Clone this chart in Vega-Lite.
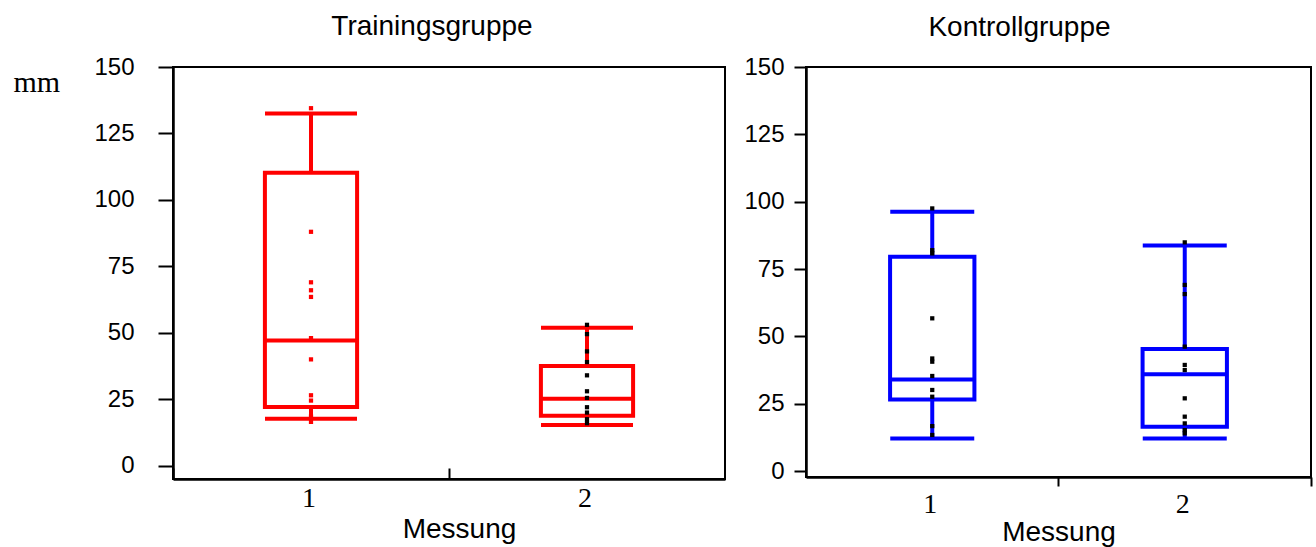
{
  "$schema": "https://vega.github.io/schema/vega-lite/v6.json",
  "padding": {"left": 12, "top": 12, "right": 4, "bottom": 0},
  "bounds": "flush",
  "spacing": 81,
  "datasets": {
    "boxen": [
      {"gruppe": "Trainingsgruppe", "messung": 1, "min": 17.7, "q1": 22.1, "median": 47.1, "q3": 110.2, "max": 132.5},
      {"gruppe": "Trainingsgruppe", "messung": 2, "min": 15.3, "q1": 18.75, "median": 25.2, "q3": 37.5, "max": 51.9},
      {"gruppe": "Kontrollgruppe", "messung": 1, "min": 12.1, "q1": 26.6, "median": 34.0, "q3": 79.6, "max": 96.3},
      {"gruppe": "Kontrollgruppe", "messung": 2, "min": 12.1, "q1": 16.5, "median": 35.9, "q3": 45.3, "max": 83.7}
    ],
    "werte": [
      {"gruppe": "Trainingsgruppe", "messung": 1, "mm": 134.5},
      {"gruppe": "Trainingsgruppe", "messung": 1, "mm": 88},
      {"gruppe": "Trainingsgruppe", "messung": 1, "mm": 69},
      {"gruppe": "Trainingsgruppe", "messung": 1, "mm": 66},
      {"gruppe": "Trainingsgruppe", "messung": 1, "mm": 63.5},
      {"gruppe": "Trainingsgruppe", "messung": 1, "mm": 48},
      {"gruppe": "Trainingsgruppe", "messung": 1, "mm": 40},
      {"gruppe": "Trainingsgruppe", "messung": 1, "mm": 26.5},
      {"gruppe": "Trainingsgruppe", "messung": 1, "mm": 24.5},
      {"gruppe": "Trainingsgruppe", "messung": 1, "mm": 18.5},
      {"gruppe": "Trainingsgruppe", "messung": 1, "mm": 16.5},
      {"gruppe": "Trainingsgruppe", "messung": 2, "mm": 53},
      {"gruppe": "Trainingsgruppe", "messung": 2, "mm": 49.5},
      {"gruppe": "Trainingsgruppe", "messung": 2, "mm": 43},
      {"gruppe": "Trainingsgruppe", "messung": 2, "mm": 39},
      {"gruppe": "Trainingsgruppe", "messung": 2, "mm": 34},
      {"gruppe": "Trainingsgruppe", "messung": 2, "mm": 28},
      {"gruppe": "Trainingsgruppe", "messung": 2, "mm": 25.5},
      {"gruppe": "Trainingsgruppe", "messung": 2, "mm": 22},
      {"gruppe": "Trainingsgruppe", "messung": 2, "mm": 20},
      {"gruppe": "Trainingsgruppe", "messung": 2, "mm": 17.5},
      {"gruppe": "Trainingsgruppe", "messung": 2, "mm": 16},
      {"gruppe": "Kontrollgruppe", "messung": 1, "mm": 97.5},
      {"gruppe": "Kontrollgruppe", "messung": 1, "mm": 82},
      {"gruppe": "Kontrollgruppe", "messung": 1, "mm": 80.8},
      {"gruppe": "Kontrollgruppe", "messung": 1, "mm": 56.7},
      {"gruppe": "Kontrollgruppe", "messung": 1, "mm": 41.8},
      {"gruppe": "Kontrollgruppe", "messung": 1, "mm": 40.6},
      {"gruppe": "Kontrollgruppe", "messung": 1, "mm": 35.3},
      {"gruppe": "Kontrollgruppe", "messung": 1, "mm": 30.1},
      {"gruppe": "Kontrollgruppe", "messung": 1, "mm": 27.6},
      {"gruppe": "Kontrollgruppe", "messung": 1, "mm": 16.7},
      {"gruppe": "Kontrollgruppe", "messung": 1, "mm": 13.4},
      {"gruppe": "Kontrollgruppe", "messung": 2, "mm": 84.9},
      {"gruppe": "Kontrollgruppe", "messung": 2, "mm": 69.1},
      {"gruppe": "Kontrollgruppe", "messung": 2, "mm": 65.7},
      {"gruppe": "Kontrollgruppe", "messung": 2, "mm": 46.2},
      {"gruppe": "Kontrollgruppe", "messung": 2, "mm": 39.4},
      {"gruppe": "Kontrollgruppe", "messung": 2, "mm": 37.5},
      {"gruppe": "Kontrollgruppe", "messung": 2, "mm": 27},
      {"gruppe": "Kontrollgruppe", "messung": 2, "mm": 20.2},
      {"gruppe": "Kontrollgruppe", "messung": 2, "mm": 17.7},
      {"gruppe": "Kontrollgruppe", "messung": 2, "mm": 15.2},
      {"gruppe": "Kontrollgruppe", "messung": 2, "mm": 14}
    ]
  },
  "hconcat": [
    {
      "width": 552,
      "height": 412,
      "title": {"text": "Trainingsgruppe", "dx": -17, "offset": 14},
      "encoding": {
        "x": {
          "field": "messung",
          "type": "ordinal",
          "scale": {"paddingInner": 0, "paddingOuter": 0},
          "axis": {
            "title": "Messung",
            "bandPosition": 0,
            "labelOffset": -2,
            "labelAngle": 0,
            "tickSize": -11,
            "labelPadding": 16,
            "labelFont": "Liberation Serif",
            "labelFontSize": 28,
            "titleX": 286,
            "titlePadding": 3
          }
        }
      },
      "layer": [
        {
          "data": {"name": "boxen"},
          "transform": [{"filter": "datum.gruppe === 'Trainingsgruppe'"}],
          "mark": {"type": "rule", "color": "#ff0000", "strokeWidth": 4},
          "encoding": {
            "y": {
              "field": "min",
              "type": "quantitative",
              "title": "mm",
              "scale": {"domain": [-5, 150], "nice": false, "zero": false},
              "axis": {
                "values": [0, 25, 50, 75, 100, 125, 150],
                "tickSize": 15,
                "labelPadding": 24,
                "titleAngle": 0,
                "titleAlign": "left",
                "titleBaseline": "alphabetic",
                "titleX": -160,
                "titleY": 24,
                "titleFont": "Liberation Serif",
                "titleFontSize": 30
              }
            },
            "y2": {"field": "max"}
          }
        },
        {
          "data": {"name": "boxen"},
          "transform": [{"filter": "datum.gruppe === 'Trainingsgruppe'"}],
          "mark": {"type": "bar", "width": {"band": 0.334}, "fill": "white", "stroke": "#ff0000", "strokeWidth": 4},
          "encoding": {
            "y": {"field": "q1", "type": "quantitative", "title": "mm"},
            "y2": {"field": "q3"}
          }
        },
        {
          "data": {"name": "boxen"},
          "transform": [{"filter": "datum.gruppe === 'Trainingsgruppe'"}],
          "mark": {"type": "tick", "color": "#ff0000", "size": 92, "thickness": 4, "opacity": 1},
          "encoding": {"y": {"field": "median", "type": "quantitative", "title": "mm"}}
        },
        {
          "data": {"name": "boxen"},
          "transform": [{"filter": "datum.gruppe === 'Trainingsgruppe'"}],
          "mark": {"type": "tick", "color": "#ff0000", "size": 92, "thickness": 4, "opacity": 1},
          "encoding": {"y": {"field": "min", "type": "quantitative", "title": "mm"}}
        },
        {
          "data": {"name": "boxen"},
          "transform": [{"filter": "datum.gruppe === 'Trainingsgruppe'"}],
          "mark": {"type": "tick", "color": "#ff0000", "size": 92, "thickness": 4, "opacity": 1},
          "encoding": {"y": {"field": "max", "type": "quantitative", "title": "mm"}}
        },
        {
          "data": {"name": "werte"},
          "transform": [{"filter": "datum.gruppe === 'Trainingsgruppe'"}],
          "mark": {"type": "point", "shape": "square", "filled": true, "size": 18, "opacity": 1},
          "encoding": {
            "y": {"field": "mm", "type": "quantitative", "title": "mm"},
            "color": {
              "condition": {"test": "datum.messung === 1", "value": "#ff0000"},
              "value": "#000000"
            }
          }
        }
      ]
    },
    {
      "width": 505,
      "height": 410,
      "title": {"text": "Kontrollgruppe", "dx": -39, "offset": 13},
      "encoding": {
        "x": {
          "field": "messung",
          "type": "ordinal",
          "scale": {"paddingInner": 0, "paddingOuter": 0},
          "axis": {
            "title": "Messung",
            "bandPosition": 1,
            "labelOffset": -2,
            "labelAngle": 0,
            "tickSize": 9,
            "labelPadding": 4,
            "labelFont": "Liberation Serif",
            "labelFontSize": 28,
            "titlePadding": 0
          }
        }
      },
      "layer": [
        {
          "data": {"name": "boxen"},
          "transform": [{"filter": "datum.gruppe === 'Kontrollgruppe'"}],
          "mark": {"type": "rule", "color": "#0000ff", "strokeWidth": 4},
          "encoding": {
            "y": {
              "field": "min",
              "type": "quantitative",
              "title": null,
              "scale": {"domain": [-2.2, 150], "nice": false, "zero": false},
              "axis": {
                "values": [0, 12.5, 25, 37.5, 50, 62.5, 75, 87.5, 100, 112.5, 125, 137.5, 150],
                "labelExpr": "datum.value % 25 === 0 ? datum.label : ''",
                "tickSize": {"condition": {"test": "datum.value % 25 === 0", "value": 12}, "value": 7},
                "labelPadding": 10
              }
            },
            "y2": {"field": "max"}
          }
        },
        {
          "data": {"name": "boxen"},
          "transform": [{"filter": "datum.gruppe === 'Kontrollgruppe'"}],
          "mark": {"type": "bar", "width": {"band": 0.334}, "fill": "white", "stroke": "#0000ff", "strokeWidth": 4},
          "encoding": {
            "y": {"field": "q1", "type": "quantitative", "title": null},
            "y2": {"field": "q3"}
          }
        },
        {
          "data": {"name": "boxen"},
          "transform": [{"filter": "datum.gruppe === 'Kontrollgruppe'"}],
          "mark": {"type": "tick", "color": "#0000ff", "size": 84, "thickness": 4, "opacity": 1},
          "encoding": {"y": {"field": "median", "type": "quantitative", "title": null}}
        },
        {
          "data": {"name": "boxen"},
          "transform": [{"filter": "datum.gruppe === 'Kontrollgruppe'"}],
          "mark": {"type": "tick", "color": "#0000ff", "size": 84, "thickness": 4, "opacity": 1},
          "encoding": {"y": {"field": "min", "type": "quantitative", "title": null}}
        },
        {
          "data": {"name": "boxen"},
          "transform": [{"filter": "datum.gruppe === 'Kontrollgruppe'"}],
          "mark": {"type": "tick", "color": "#0000ff", "size": 84, "thickness": 4, "opacity": 1},
          "encoding": {"y": {"field": "max", "type": "quantitative", "title": null}}
        },
        {
          "data": {"name": "werte"},
          "transform": [{"filter": "datum.gruppe === 'Kontrollgruppe'"}],
          "mark": {"type": "point", "shape": "square", "filled": true, "size": 18, "opacity": 1, "color": "#000000"},
          "encoding": {"y": {"field": "mm", "type": "quantitative", "title": null}}
        }
      ]
    }
  ],
  "config": {
    "view": {"stroke": "#000000", "strokeWidth": 2},
    "axis": {
      "grid": false,
      "domainColor": "#000000",
      "domainWidth": 2.5,
      "tickColor": "#000000",
      "tickWidth": 2,
      "labelColor": "#000000",
      "labelFont": "Liberation Sans",
      "labelFontSize": 24,
      "titleColor": "#000000",
      "titleFont": "Liberation Sans",
      "titleFontSize": 28,
      "titleFontWeight": "normal"
    },
    "title": {"font": "Liberation Sans", "fontSize": 28, "fontWeight": "normal", "color": "#000000", "anchor": "middle"}
  }
}
